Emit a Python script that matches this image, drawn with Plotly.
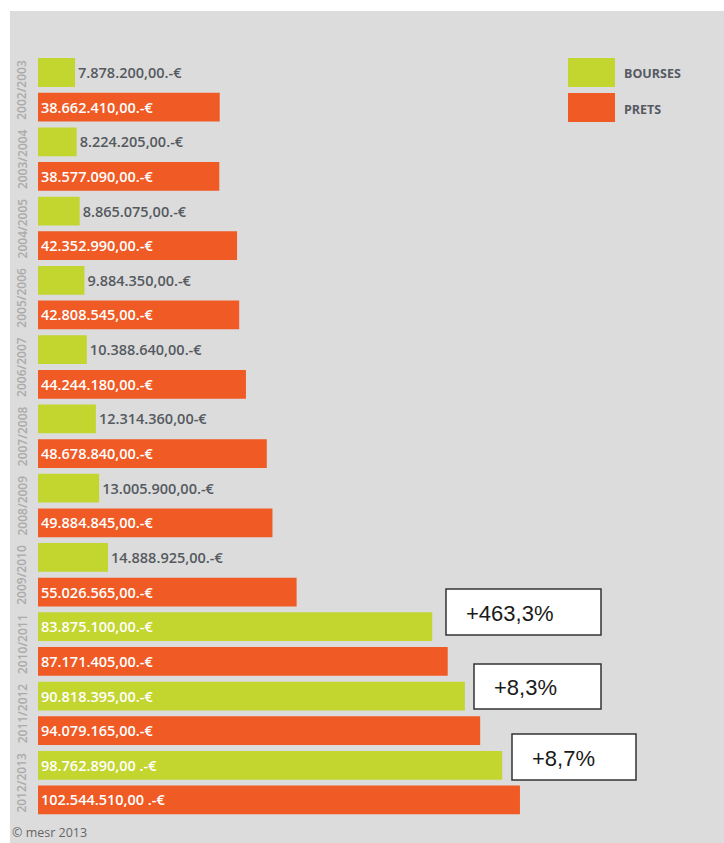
import plotly.graph_objects as go

# Academic years and amounts (euros)
years = ["2002/2003", "2003/2004", "2004/2005", "2005/2006", "2006/2007",
         "2007/2008", "2008/2009", "2009/2010", "2010/2011", "2011/2012", "2012/2013"]
bourses = [7878200, 8224205, 8865075, 9884350, 10388640, 12314360,
           13005900, 14888925, 83875100, 90818395, 98762890]
prets = [38662410, 38577090, 42352990, 42808545, 44244180, 48678840,
         49884845, 55026565, 87171405, 94079165, 102544510]
bourses_labels = ["7.878.200,00.-€", "8.224.205,00.-€", "8.865.075,00.-€", "9.884.350,00.-€",
                  "10.388.640,00.-€", "12.314.360,00-€", "13.005.900,00.-€", "14.888.925,00.-€",
                  "83.875.100,00.-€", "90.818.395,00.-€", "98.762.890,00 .-€"]
prets_labels = ["38.662.410,00.-€", "38.577.090,00.-€", "42.352.990,00.-€", "42.808.545,00.-€",
                "44.244.180,00.-€", "48.678.840,00.-€", "49.884.845,00.-€", "55.026.565,00.-€",
                "87.171.405,00.-€", "94.079.165,00.-€", "102.544.510,00 .-€"]
growth_labels = ["+463,3%", "+8,3%", "+8,7%"]

GREEN = "#c3d52f"
ORANGE = "#f05a24"
BG = "#dcdcdc"
W, H = 724, 843

# pixel layout helpers
x0_px, px_per_m = 38, 4.70
y0_px, pitch = 72.5, 34.64

def xr(px):
    return (px - x0_px) / px_per_m * 1e6

def py(px):
    return 1 - px / H

y_top = (0 - y0_px) / pitch
y_bot = (H - y0_px) / pitch

pos_b = [2 * i for i in range(len(years))]
pos_p = [2 * i + 1 for i in range(len(years))]

LABEL_FONT = dict(family="Open Sans", size=14.5, weight=600)

fig = go.Figure()
fig.add_trace(go.Bar(
    x=bourses, y=pos_b, orientation="h", width=0.83,
    marker=dict(color=GREEN, line=dict(width=0)),
    text=bourses_labels,
    textposition=["outside" if v < 40e6 else "inside" for v in bourses],
    insidetextanchor="start",
    insidetextfont=dict(LABEL_FONT, color="white"),
    outsidetextfont=dict(LABEL_FONT, color="#555a60"),
    cliponaxis=False, hoverinfo="skip", name="BOURSES",
))
fig.add_trace(go.Bar(
    x=prets, y=pos_p, orientation="h", width=0.83,
    marker=dict(color=ORANGE, line=dict(width=0)),
    text=prets_labels, textposition="inside", insidetextanchor="start",
    insidetextfont=dict(LABEL_FONT, color="white"),
    cliponaxis=False, hoverinfo="skip", name="PRETS",
))

shapes = [
    # grey panel
    dict(type="rect", xref="paper", yref="paper", x0=10 / W, x1=1, y0=0, y1=py(11),
         fillcolor=BG, line=dict(width=0), layer="below"),
    # legend swatches
    dict(type="rect", xref="paper", yref="paper", x0=568 / W, x1=615 / W,
         y0=py(87), y1=py(58), fillcolor=GREEN, line=dict(width=0)),
    dict(type="rect", xref="paper", yref="paper", x0=568 / W, x1=615 / W,
         y0=py(122), y1=py(93), fillcolor=ORANGE, line=dict(width=0)),
]

annotations = []
for i, yr in enumerate(years):
    annotations.append(dict(
        x=xr(22), y=2 * i + 0.5, xref="x", yref="y", text=yr, textangle=-90,
        xanchor="center", yanchor="middle", showarrow=False,
        font=dict(family="Open Sans", size=12, color="#ababab", weight=600),
    ))

annotations += [
    dict(x=622 / W, y=py(73), xref="paper", yref="paper", text="BOURSES",
         xanchor="left", yanchor="middle", showarrow=False,
         font=dict(family="Open Sans", size=12.5, color="#555a62", weight=700)),
    dict(x=622 / W, y=py(109), xref="paper", yref="paper", text="PRETS",
         xanchor="left", yanchor="middle", showarrow=False,
         font=dict(family="Open Sans", size=12.5, color="#555a62", weight=700)),
    dict(x=10 / W, y=py(832), xref="paper", yref="paper", text="© mesr 2013",
         xanchor="left", yanchor="middle", showarrow=False,
         font=dict(family="Open Sans", size=12.5, color="#666666")),
]

# growth boxes: (left, right, top, bottom, text left)
boxes = [(446, 601, 589, 635, 464), (474, 601, 664, 709, 492), (512, 636, 734, 780, 530)]
for (l, r, t, b, tx), lab in zip(boxes, growth_labels):
    shapes.append(dict(type="rect", xref="paper", yref="paper", x0=l / W, x1=r / W,
                       y0=py(b), y1=py(t), fillcolor="white",
                       line=dict(color="#333333", width=1.5)))
    annotations.append(dict(x=tx / W, y=py((t + b) / 2 + 1), xref="paper", yref="paper",
                            text=lab, xanchor="left", yanchor="middle", showarrow=False,
                            font=dict(family="Arial", size=22, color="#1a1a1a")))

fig.update_layout(
    width=W, height=H, margin=dict(l=0, r=0, t=0, b=0),
    paper_bgcolor="white", plot_bgcolor="rgba(0,0,0,0)",
    showlegend=False, barmode="overlay",
    xaxis=dict(range=[xr(0), xr(W)], visible=False, fixedrange=True),
    yaxis=dict(range=[y_bot, y_top], visible=False, fixedrange=True),
    shapes=shapes, annotations=annotations,
)

fig.write_html("out.html")
